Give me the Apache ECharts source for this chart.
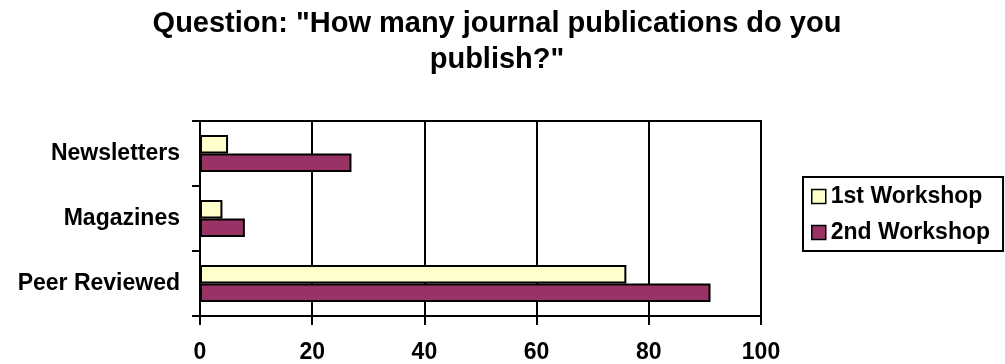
<!DOCTYPE html>
<html lang="en">
<head>
	<meta charset="UTF-8">
	<title>Journal publications</title>
	<script type="text/javascript" src="https://cdn.jsdelivr.net/npm/echarts@6/dist/echarts.min.js"></script>
	<style>
		html, body { margin: 0; padding: 0; background: #fff; }
	</style>
</head>
<body>
	<div id="main" style="width: 1005px;height: 364px;"></div>
	<script type="text/javascript">
		// data
		var categories = ['Peer Reviewed', 'Magazines', 'Newsletters'];
		var firstWorkshop = [76, 4, 5];
		var secondWorkshop = [91, 8, 27];
		var seriesNames = ['1st Workshop', '2nd Workshop'];

		var font = '"Liberation Sans", Arial, sans-serif';
		var myChart = echarts.init(document.getElementById('main'));
		var option = {
			backgroundColor: '#fff',
			animation: false,
			title: {
				text: 'Question: "How many journal publications do you\npublish?"',
				left: 497,
				top: 6,
				padding: 0,
				textAlign: 'center',
				textStyle: {
					fontFamily: font,
					fontSize: 29,
					fontWeight: 'bold',
					color: '#000',
					lineHeight: 36
				}
			},
			legend: {
				data: seriesNames,
				orient: 'vertical',
				left: 803,
				top: 177,
				padding: [8, 13, 7, 8],
				borderColor: '#000',
				borderWidth: 2,
				itemWidth: 14,
				itemHeight: 14,
				itemGap: 13,
				icon: 'rect',
				itemStyle: { borderColor: '#000', borderWidth: 1.5 },
				textStyle: {
					fontFamily: font,
					fontSize: 23,
					fontWeight: 'bold',
					color: '#000'
				}
			},
			grid: {
				left: 200,
				right: 244,
				top: 121,
				bottom: 48,
				show: true,
				borderColor: '#000',
				borderWidth: 2,
				containLabel: false
			},
			xAxis: {
				type: 'value',
				min: 0,
				max: 100,
				interval: 20,
				axisLine: { show: true, lineStyle: { color: '#000', width: 2 } },
				axisTick: { show: true, length: 9, lineStyle: { color: '#000', width: 2 } },
				splitLine: { show: true, lineStyle: { color: '#000', width: 2 } },
				axisLabel: {
					margin: 25,
					fontFamily: font,
					fontSize: 23,
					fontWeight: 'bold',
					color: '#000'
				}
			},
			yAxis: {
				type: 'category',
				data: categories,
				axisLine: { show: true, lineStyle: { color: '#000', width: 2 } },
				axisTick: { show: true, length: 8, lineStyle: { color: '#000', width: 2 } },
				splitLine: { show: false },
				axisLabel: {
					margin: 20,
					fontFamily: font,
					fontSize: 23,
					fontWeight: 'bold',
					color: '#000'
				}
			},
			series: [
				{
					name: seriesNames[0],
					type: 'bar',
					data: firstWorkshop,
					barGap: '0%',
					barCategoryGap: '43%',
					itemStyle: { color: '#FFFFCC', borderColor: '#000', borderWidth: 2 }
				},
				{
					name: seriesNames[1],
					type: 'bar',
					data: secondWorkshop,
					barGap: '0%',
					barCategoryGap: '43%',
					itemStyle: { color: '#993366', borderColor: '#000', borderWidth: 2 }
				}
			]
		};
		myChart.setOption(option);
	</script>
</body>
</html>
